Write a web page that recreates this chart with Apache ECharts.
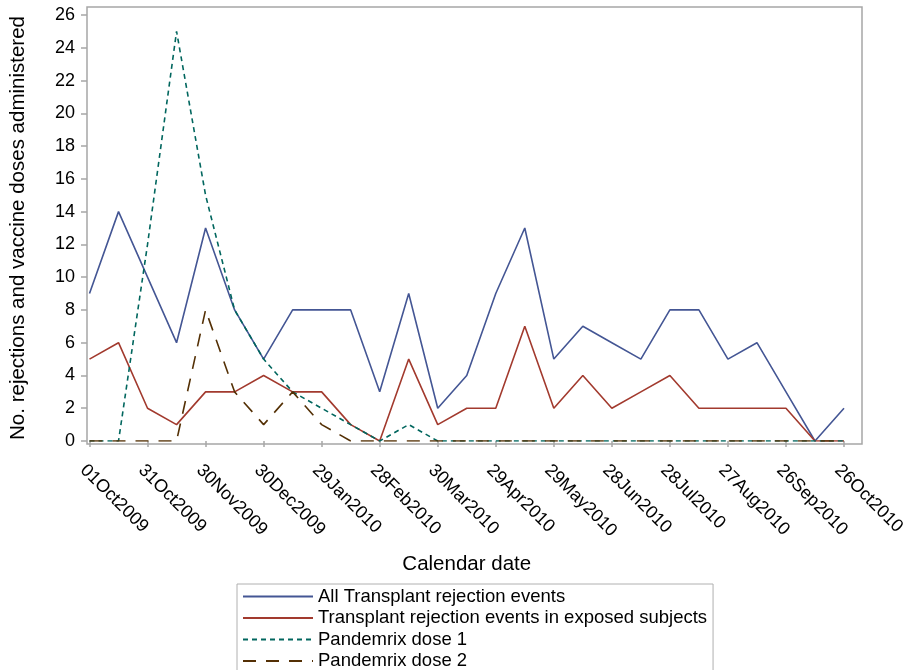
<!DOCTYPE html>
<html>
<head>
<meta charset="utf-8">
<script src="https://cdn.jsdelivr.net/npm/echarts@6/dist/echarts.min.js"></script>
<style>
html,body{margin:0;padding:0;background:#fff;}
#chart{width:904px;height:670px;}
</style>
</head>
<body>
<div id="chart"></div>
<script>
const dates = ['01Oct2009','16Oct2009','31Oct2009','15Nov2009','30Nov2009','15Dec2009','30Dec2009','14Jan2010','29Jan2010','13Feb2010','28Feb2010','15Mar2010','30Mar2010','14Apr2010','29Apr2010','14May2010','29May2010','13Jun2010','28Jun2010','13Jul2010','28Jul2010','12Aug2010','27Aug2010','11Sep2010','26Sep2010','11Oct2010','26Oct2010'];
const allRejections = [9,14,10,6,13,8,5,8,8,8,3,9,2,4,9,13,5,7,6,5,8,8,5,6,3,0,2];
const exposedRejections = [5,6,2,1,3,3,4,3,3,1,0,5,1,2,2,7,2,4,2,3,4,2,2,2,2,0,0];
const dose1 = [0,0,12,25,15,8,5,3,2,1,0,1,0,0,0,0,0,0,0,0,0,0,0,0,0,0,0];
const dose2 = [0,0,0,0,8,3,1,3,1,0,0,0,0,0,0,0,0,0,0,0,0,0,0,0,0,0,0];
const yTicks = [0,26,2];
const seriesNames = ['All Transplant rejection events','Transplant rejection events in exposed subjects','Pandemrix dose 1','Pandemrix dose 2'];

const font = "'Liberation Sans', Arial, sans-serif";
const axisGray = '#a6a6a6';
const chart = echarts.init(document.getElementById('chart'), null, {renderer:'canvas'});
function mk(name, data, color, type, width){
  return {name, type:'line', xAxisIndex:1, yAxisIndex:1, data, symbol:'none', showSymbol:false,
    lineStyle:{color, width, type}, itemStyle:{color}, animation:false, z: 3};
}
chart.setOption({
  animation:false,
  backgroundColor:'#fff',
  grid:[
    {left:87, right:42, top:7, bottom:226, show:true, borderColor:axisGray, borderWidth:1.5, backgroundColor:'transparent', outerBoundsMode:'none', containLabel:false},
    {left:89.5, right:60, top:15, bottom:229, outerBoundsMode:'none', containLabel:false}
  ],
  xAxis:[
    {gridIndex:0, type:'value', show:false, min:0, max:1},
    {gridIndex:1, type:'category', data:dates, boundaryGap:false, offset:3,
     axisLine:{show:false},
     axisTick:{show:true, interval:1, length:6, lineStyle:{color:axisGray, width:1.5}},
     axisLabel:{interval:1, rotate:-45, fontSize:18, fontFamily:font, color:'#000', margin:17, verticalAlign:'top'},
     splitLine:{show:false},
     name:'Calendar date', nameLocation:'middle', nameGap:110,
     nameTextStyle:{fontSize:20.5, fontFamily:font, color:'#000'}}
  ],
  yAxis:[
    {gridIndex:0, type:'value', show:false, min:0, max:1},
    {gridIndex:1, type:'value', min:yTicks[0], max:yTicks[1], interval:yTicks[2], offset:2.5,
     axisLine:{show:false},
     axisTick:{show:true, length:6, lineStyle:{color:axisGray, width:1.5}},
     axisLabel:{fontSize:18, fontFamily:font, color:'#000', margin:12},
     splitLine:{show:false},
     name:'No. rejections and vaccine doses administered', nameLocation:'middle', nameGap:58,
     nameTextStyle:{fontSize:20.5, fontFamily:font, color:'#000'}}
  ],
  legend:{
    orient:'vertical', left:237, top:584, height:100, itemWidth:70, itemHeight:14, itemGap:2.5, itemTextGap:7,
    padding:[3,6,5,5], borderColor:'#b0b0b0', borderWidth:1, backgroundColor:'#fff',
    itemStyle:{opacity:0},
    textStyle:{fontSize:18.5, fontFamily:font, color:'#000', lineHeight:18},
    data: seriesNames
  },
  series:[
    mk(seriesNames[0], allRejections, '#445694', 'solid', 1.6),
    mk(seriesNames[1], exposedRejections, '#A23A2E', 'solid', 1.6),
    mk(seriesNames[2], dose1, '#01665E', [5,4], 1.6),
    mk(seriesNames[3], dose2, '#543005', [13,10], 1.6)
  ]
});
</script>
</body>
</html>
